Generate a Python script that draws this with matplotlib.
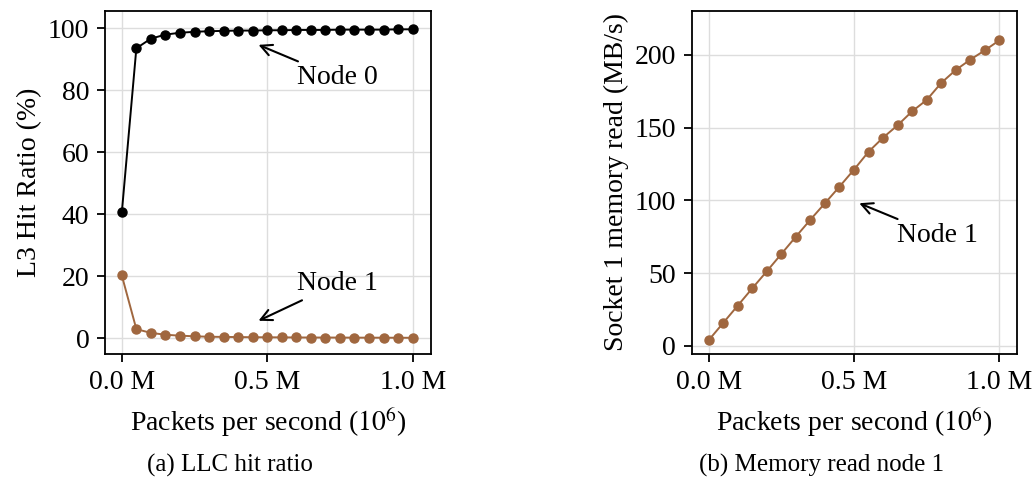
import matplotlib.pyplot as plt
import numpy as np

plt.rcParams['font.family'] = ['Liberation Serif', 'DejaVu Serif']
plt.rcParams['mathtext.fontset'] = 'stix'

# packets per second (millions)
pps = [0.0, 0.05, 0.1, 0.15, 0.2, 0.25, 0.3, 0.35, 0.4, 0.45, 0.5,
       0.55, 0.6, 0.65, 0.7, 0.75, 0.8, 0.85, 0.9, 0.95, 1.0]

# L3 hit ratio (%)
hit_node0 = [40.6, 93.5, 96.6, 97.9, 98.5, 98.8, 99.0, 99.1, 99.2, 99.2, 99.3,
             99.3, 99.4, 99.4, 99.4, 99.5, 99.5, 99.5, 99.5, 99.6, 99.6]
hit_node1 = [20.3, 3.0, 1.8, 1.2, 0.9, 0.7, 0.55, 0.5, 0.45, 0.4, 0.38,
             0.35, 0.33, 0.3, 0.3, 0.28, 0.27, 0.25, 0.25, 0.23, 0.22]

# socket 1 memory read (MB/s)
mem_read = [3.9, 15.8, 27.7, 39.6, 51.3, 63.2, 75.1, 86.8, 98.1, 109.5, 121.2,
            133.5, 143.2, 151.7, 161.3, 169.1, 180.8, 189.7, 196.8, 203.2, 210.1]

xticks = [0.0, 0.5, 1.0]
xticklabels = ['0.0 M', '0.5 M', '1.0 M']

black = '#000000'
brown = '#a0673f'
fs = 20

fig = plt.figure(figsize=(10.34, 4.79), dpi=100)
ax1 = fig.add_axes([0.1015, 0.261, 0.315, 0.716])
ax2 = fig.add_axes([0.669, 0.261, 0.315, 0.716])

for ax in (ax1, ax2):
    ax.grid(True, color='#dddddd', linewidth=1.0)
    ax.set_axisbelow(True)
    ax.set_xticks(xticks)
    ax.set_xticklabels(xticklabels)
    ax.set_xlim(-0.058, 1.062)
    ax.tick_params(labelsize=fs, length=5.8, width=1.3, pad=5.5)
    for s in ax.spines.values():
        s.set_linewidth(1.3)
    ax.set_xlabel('Packets per second ($10^6$)', fontsize=fs, labelpad=8)

ax1.plot(pps, hit_node0, '-o', color=black, markersize=6.5, linewidth=1.4)
ax1.plot(pps, hit_node1, '-o', color=brown, markersize=6.5, linewidth=1.4)
ax1.set_ylim(-5, 105.5)
ax1.set_yticks([0, 20, 40, 60, 80, 100])
ax1.set_ylabel('L3 Hit Ratio (%)', fontsize=fs)
ax1.annotate('Node 0', xy=(0.47, 94.6), xytext=(0.74, 84), fontsize=fs,
             ha='center', va='center',
             arrowprops=dict(arrowstyle='->', color='black', lw=1.5, shrinkA=2, shrinkB=0))
ax1.annotate('Node 1', xy=(0.47, 5.7), xytext=(0.74, 17.6), fontsize=fs,
             ha='center', va='center',
             arrowprops=dict(arrowstyle='->', color='black', lw=1.5, shrinkA=2, shrinkB=0))

ax2.plot(pps, mem_read, '-o', color=brown, markersize=6.5, linewidth=1.4)
ax2.set_ylim(-5.5, 230.2)
ax2.set_yticks([0, 50, 100, 150, 200])
ax2.set_ylabel('Socket 1 memory read (MB/s)', fontsize=fs)
ax2.annotate('Node 1', xy=(0.518, 98.1), xytext=(0.786, 76), fontsize=fs,
             ha='center', va='center',
             arrowprops=dict(arrowstyle='->', color='black', lw=1.5, shrinkA=2, shrinkB=0))

fig.text(0.222, 0.029, '(a) LLC hit ratio', fontsize=18, ha='center', va='center')
fig.text(0.795, 0.029, '(b) Memory read node 1', fontsize=18, ha='center', va='center')

fig.savefig('out.png', dpi=100)
